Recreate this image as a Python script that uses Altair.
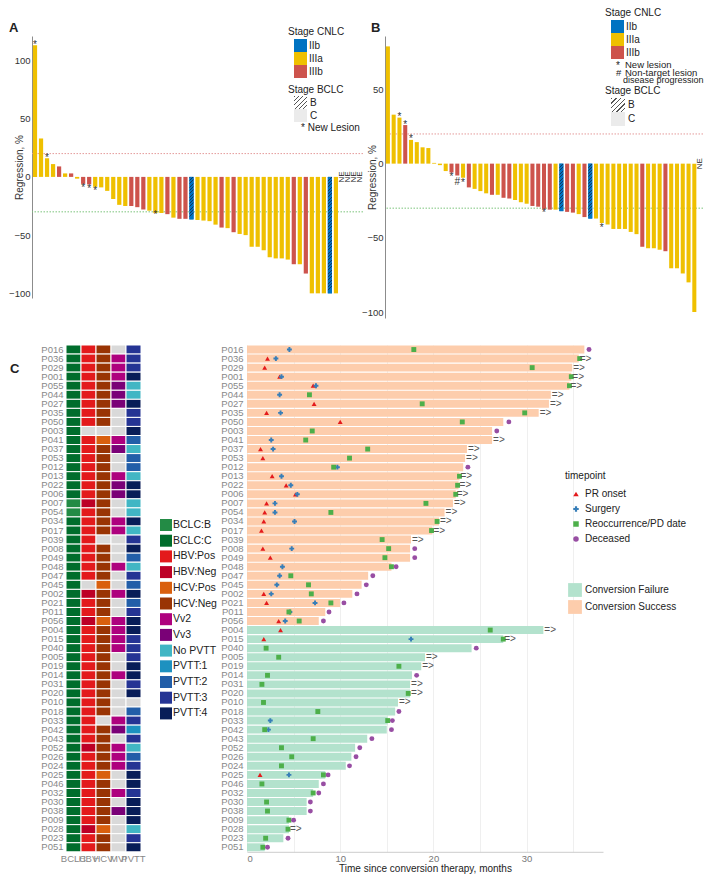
import altair as alt
import pandas as pd

FONT = "Liberation Sans"

# ---------------- Panel A (waterfall) ----------------
a_values = [113, 33, 16, 11, 9, 3, 3, -1.5, -6, -6.5,
            -8.5, -9, -12, -19, -24, -25, -25, -26, -28, -29,
            -31, -31, -32, -35, -36, -36, -36.5, -37, -37.5, -38,
            -41, -43.5, -44, -47.5, -49, -50, -60, -60, -63, -69,
            -70, -70, -71, -75, -75, -83, -100, -100, -100, -100, -100]
a_stage = ["IIIa", "IIIa", "IIIa", "IIIa", "IIIb", "IIIa", "IIIb", "IIIa", "IIIb", "IIIb",
           "IIIa", "IIIa", "IIIa", "IIIa", "IIIa", "IIIa", "IIIb", "IIIb", "IIIb", "IIIa",
           "IIIa", "IIIa", "IIIb", "IIIa", "IIIb", "IIIb", "IIb", "IIIa", "IIIa", "IIIa",
           "IIIa", "IIIb", "IIIa", "IIIb", "IIIa", "IIIa", "IIIa", "IIIa", "IIIa", "IIIa",
           "IIIa", "IIIa", "IIIa", "IIIb", "IIIa", "IIIb", "IIIa", "IIIa", "IIIa", "IIb", "IIIa"]
a_hatched = [27, 50]
a_ne = [52, 53, 54, 55]
a_star_bar = [1, 3, 9, 10, 11, 21]
a_star_y = [115, 18.5, -7.5, -8.5, -10, -30.5]
a_star_sym = ["*", "*", "*", "*", "*", "*"]

# ---------------- Panel B (waterfall) ----------------
b_values = [79, 33, 31, 26, 16, 14.5, 11, 10.5, 0.5, -1,
            -5, -6, -8, -9.5, -16, -17, -18.5, -20, -21, -21,
            -23, -23.5, -24.5, -26, -27, -28.5, -29, -30.5, -31, -31,
            -32, -32.5, -33, -34, -36, -37, -37, -40, -41, -44,
            -44, -44, -46, -47.5, -56, -57, -57, -58, -59, -70.5,
            -70.5, -74, -80, -100]
b_stage = ["IIIa", "IIIa", "IIIa", "IIIb", "IIIa", "IIIa", "IIIa", "IIIa", "IIIa", "IIIa",
           "IIIa", "IIIb", "IIIb", "IIIa", "IIIb", "IIIa", "IIIa", "IIIa", "IIIb", "IIIa",
           "IIIb", "IIIb", "IIIa", "IIIa", "IIIa", "IIIb", "IIIb", "IIIb", "IIIb", "IIIa",
           "IIb", "IIIb", "IIIb", "IIIa", "IIIb", "IIb", "IIIa", "IIIa", "IIIa", "IIIa",
           "IIIa", "IIIa", "IIIa", "IIIa", "IIIb", "IIIa", "IIIa", "IIIa", "IIIb", "IIIa",
           "IIIa", "IIIa", "IIIa", "IIIa"]
b_hatched = [31, 36]
b_ne = [55]
b_star_bar = [3, 4, 5, 12, 13, 14, 28, 38]
b_star_y = [33, 28, 18, -7.5, -10.5, -11.5, -31.5, -42]
b_star_sym = ["*", "*", "*", "*", "#", "*", "*", "*"]

stage_domain = ["IIb", "IIIa", "IIIb"]
stage_colors = ["#0073C2", "#EFC000", "#CD534C"]

# ---------------- Panel C ----------------
patients = ["P016", "P036", "P029", "P001", "P055", "P044", "P027", "P035", "P050", "P003",
            "P041", "P037", "P053", "P012", "P013", "P022", "P006", "P007", "P054", "P034",
            "P017", "P039", "P008", "P049", "P048", "P047", "P045", "P002", "P021", "P011",
            "P056", "P004", "P015", "P040", "P005", "P019", "P014", "P031", "P020", "P010",
            "P018", "P033", "P042", "P043", "P052", "P026", "P024", "P025", "P046", "P032",
            "P030", "P038", "P009", "P028", "P023", "P051"]
conversion = ["Conversion Success"] * 31 + ["Conversion Failure"] * 25
duration = [36.2, 35.6, 34.9, 34.8, 34.6, 32.6, 32.4, 31.3, 27.5, 26.3,
            26.3, 23.6, 23.4, 23.2, 22.8, 22.7, 22.4, 22.1, 21.2, 20.6,
            19.9, 17.6, 17.5, 17.5, 15.5, 13.0, 12.3, 11.3, 10.0, 8.4,
            7.7, 31.8, 27.5, 24.1, 19.1, 18.7, 17.7, 17.5, 17.5, 16.2,
            15.9, 15.1, 15.0, 12.9, 11.6, 11.2, 10.6, 8.4, 7.7, 7.1,
            6.4, 6.4, 4.5, 4.5, 3.9, 1.9]
ongoing = ["P036", "P029", "P001", "P055", "P044", "P027", "P035", "P041", "P037", "P053",
           "P013", "P022", "P006", "P007", "P054", "P034", "P017", "P039",
           "P004", "P015", "P005", "P019", "P031", "P020", "P010", "P028"]
pr_onset = [None, 2.2, 1.9, 3.5, 7.1, None, 7.2, 2.1, 10.0, None,
            None, 1.45, 1.7, None, 2.7, 4.2, 5.2, 2.1, 1.9, 1.8,
            1.55, None, 1.7, 2.5, None, None, None, 1.8, 2.1, None,
            3.4, 3.6, 1.8, None, None, None, None, None, None, None,
            None, None, None, None, None, None, None, 1.4, None, None,
            None, None, None, None, None, None]
surgery = [4.55, 3.1, None, 3.7, 7.4, 3.5, None, 3.6, None, None,
           2.6, 2.8, None, 9.7, 3.7, 4.7, 5.4, 3.0, 3.0, 5.1,
           None, None, 4.8, None, 3.8, 3.5, 3.2, 2.6, 7.3, 4.6,
           4.1, None, 17.6, None, None, None, None, None, None, None,
           None, 2.5, 2.3, None, None, None, None, 4.5, None, None,
           None, None, None, None, None, None]
recurrence = [17.9, 35.7, 30.6, 34.8, 34.6, 6.7, 18.8, 29.8, 23.1, 7.0,
              6.3, 12.95, 11.0, 9.3, 22.8, 22.6, 22.4, 19.2, 9.0, 20.4,
              19.8, 14.5, 15.2, 14.8, 15.5, 4.7, 6.6, 6.9, 9.0, 4.5,
              5.6, 26.1, 27.5, 2.05, 3.4, 16.3, 2.2, 1.6, 17.3, 1.77,
              7.6, 15.1, 1.9, 7.1, 3.7, 4.8, 3.7, 8.2, 1.6, 7.1,
              2.1, 2.2, 4.5, 4.4, 2.0, 1.7]
deceased = [36.7, None, None, None, None, None, None, None, 28.1, 26.8,
            None, None, None, 23.7, None, None, None, None, None, None,
            None, None, 18.0, 18.0, 16.0, 13.5, 12.8, 11.8, 10.4, 8.8,
            8.2, None, None, 24.6, None, None, 18.2, None, None, None,
            16.3, 15.6, 15.5, 13.4, 12.1, 11.7, 11.0, 8.7, 8.2, 7.7,
            6.8, 6.8, 5.0, None, 4.4, 2.2]

# heatmap columns (NA = not available)
bclc = ["BCLC:C"] * 17 + ["BCLC:B", "BCLC:B"] + ["BCLC:C"] * 37
hbv = ["HBV:Pos"] * 9 + ["NA"] + ["HBV:Pos"] * 7 + ["HBV:Neg"] + ["HBV:Pos"] * 8 + ["NA", "HBV:Neg", "HBV:Pos", "HBV:Pos", "HBV:Neg"] \
      + ["HBV:Pos"] * 13 + ["HBV:Neg"] + ["HBV:Pos"] * 8 + ["HBV:Neg", "HBV:Pos", "HBV:Pos"]
hcv = ["HCV:Neg"] * 9 + ["NA", "HCV:Pos"] + ["HCV:Neg"] * 10 + ["NA"] + ["HCV:Neg"] * 4 + ["HCV:Pos", "HCV:Neg", "HCV:Neg", "HCV:Neg", "HCV:Pos"] \
      + ["HCV:Neg"] * 10 + ["NA"] + ["HCV:Neg"] * 5 + ["HCV:Pos"] + ["HCV:Neg"] * 5 + ["HCV:Pos", "HCV:Neg", "HCV:Neg"]
mvi = ["NA", "Vv2", "Vv2", "Vv2", "Vv3", "Vv3", "Vv3", "NA", "NA", "NA",
       "Vv2", "Vv3", "NA", "NA", "Vv2", "Vv3", "Vv3", "NA", "NA", "Vv2",
       "Vv2", "NA", "NA", "NA", "Vv2", "NA", "NA", "Vv2", "NA", "NA",
       "Vv2", "Vv2", "Vv2", "Vv2", "NA", "NA", "Vv2", "NA", "NA", "NA",
       "NA", "Vv2", "Vv3", "NA", "Vv2", "Vv2", "Vv2", "NA", "NA", "Vv2",
       "NA", "Vv3", "NA", "NA", "NA", "NA"]
pvtt = ["PVTT:3", "PVTT:3", "PVTT:3", "PVTT:4", "No PVTT", "No PVTT", "PVTT:4", "PVTT:3", "PVTT:3", "PVTT:4",
        "PVTT:2", "No PVTT", "PVTT:2", "PVTT:2", "No PVTT", "PVTT:4", "PVTT:4", "No PVTT", "No PVTT", "PVTT:4",
        "No PVTT", "PVTT:3", "PVTT:4", "PVTT:2", "No PVTT", "PVTT:3", "PVTT:2", "PVTT:4", "PVTT:2", "PVTT:3",
        "PVTT:4", "PVTT:4", "PVTT:3", "PVTT:3", "PVTT:3", "PVTT:4", "PVTT:4", "PVTT:3", "PVTT:4", "NA",
        "PVTT:2", "PVTT:3", "PVTT:1", "PVTT:3", "No PVTT", "PVTT:2", "PVTT:3", "PVTT:4", "PVTT:4", "PVTT:3",
        "PVTT:4", "PVTT:4", "PVTT:4", "No PVTT", "PVTT:3", "PVTT:4"]
heat_cols = ["BCLC", "HBV", "HCV", "MVI", "PVTT"]
heat_domain = ["BCLC:B", "BCLC:C", "HBV:Pos", "HBV:Neg", "HCV:Pos", "HCV:Neg", "Vv2", "Vv3",
               "No PVTT", "PVTT:1", "PVTT:2", "PVTT:3", "PVTT:4"]
heat_colors = ["#238b45", "#006d2c", "#e31a1c", "#bd0026", "#d95f0e", "#993404", "#ae017e", "#7a0177",
               "#41b6c4", "#1d91c0", "#225ea8", "#253494", "#081d58"]

event_domain = ["PR onset", "Surgery", "Reoccurrence/PD date", "Deceased"]
event_colors = ["#e41a1c", "#377eb8", "#4daf4a", "#984ea3"]
event_shapes = ["triangle-up", "cross", "square", "circle"]

one = pd.DataFrame({"k": [0]})


def label(text, x, y, size=10, align="left", baseline="middle", weight="normal", color="#222"):
    return alt.Chart(one).mark_text(text=text, align=align, baseline=baseline, fontSize=size,
                                    fontWeight=weight, color=color, font=FONT).encode(
        x=alt.value(x), y=alt.value(y))


def swatch(x, y, w, h, fill):
    return alt.Chart(one).mark_rect(fill=fill).encode(
        x=alt.value(x), x2=alt.value(x + w), y=alt.value(y), y2=alt.value(y + h))


def stripes(n, base, dark, gx, gy=1.0, frac=0.3):
    stops = []
    for i in range(n):
        a, b, c = i / n, (i + frac) / n, (i + 1) / n
        stops += [alt.GradientStop(color=dark, offset=a), alt.GradientStop(color=dark, offset=b),
                  alt.GradientStop(color=base, offset=b), alt.GradientStop(color=base, offset=c)]
    return alt.LinearGradient(gradient="linear", stops=stops, x1=0, y1=0, x2=gx, y2=gy)


def waterfall(values, stages, hatched, ne, star_bar, star_y, star_sym, n_slots, width, height,
              ydom, yvals, leg_x, leg_y):
    df = pd.DataFrame({"pos": list(range(1, len(values) + 1)), "value": values, "stage": stages})
    xs = alt.X("pos:O", axis=None,
               scale=alt.Scale(domain=list(range(1, n_slots + 1)), paddingInner=0.3, paddingOuter=0.15))
    ys = alt.Y("value:Q", scale=alt.Scale(domain=ydom, nice=False, zero=False),
               axis=alt.Axis(values=yvals, title="Regression, %", ticks=False, grid=False,
                             domainColor="#8c8c8c", labelColor="#333", labelFontSize=9.5,
                             labelPadding=2, titleFontSize=10, titleFontWeight="normal",
                             titleColor="#333", titleX=-8))
    layers = []
    layers.append(alt.Chart(one).mark_rule(color="#e49a9a", strokeDash=[1.5, 1.5], strokeWidth=1)
                  .encode(y=alt.datum(20)))
    layers.append(alt.Chart(one).mark_rule(color="#7cc47c", strokeDash=[1.5, 1.5], strokeWidth=1)
                  .encode(y=alt.datum(-30)))
    bars = alt.Chart(df).mark_bar().encode(
        x=xs, y=ys,
        color=alt.Color("stage:N", scale=alt.Scale(domain=stage_domain, range=stage_colors),
                        legend=alt.Legend(title="Stage CNLC", orient="none", legendX=leg_x, legendY=leg_y,
                                          direction="vertical", symbolType="square", symbolSize=169,
                                          symbolOffset=6, symbolStrokeWidth=0, rowPadding=0,
                                          labelFontSize=10, labelOffset=2, titleFontSize=10,
                                          titleFontWeight="normal", titlePadding=2, padding=0,
                                          labelColor="#222", titleColor="#222")))
    layers.append(bars)
    step = width / n_slots
    bw = 0.7 * step
    pxu = height / (ydom[1] - ydom[0])
    for h in hatched:
        hp = abs(values[h - 1]) * pxu
        n = max(6, int(round(hp / 3.3)))
        grad = stripes(n, "#0073C2", "#16365f", bw / hp)
        layers.append(alt.Chart(df).transform_filter(alt.datum.pos == h).mark_bar(fill=grad)
                      .encode(x=xs, y=ys))
    sdf = pd.DataFrame({"pos": star_bar, "value": star_y, "sym": star_sym})
    layers.append(alt.Chart(sdf).mark_text(fontSize=10, baseline="middle", dy=2.5, color="#333", font=FONT)
                  .encode(x=xs, y=ys, text="sym:N"))
    ndf = pd.DataFrame({"pos": ne, "value": [0] * len(ne), "t": ["NE"] * len(ne)})
    layers.append(alt.Chart(ndf).mark_text(fontSize=8, angle=270, baseline="middle", align="center",
                                           color="#222", font=FONT)
                  .encode(x=xs, y=ys, text="t:N"))
    return layers


WA, HA = 331, 262
WB, HB = 318, 282

a_layers = waterfall(a_values, a_stage, a_hatched, a_ne, a_star_bar, a_star_y, a_star_sym, 55, WA, HA,
                     [-104, 121], [-100, -50, 0, 50, 100], 256, -9)
a_layers += [
    label("A", -23, -8, size=13, weight="bold"),
    label("Stage BCLC", 256, 54),
    swatch(262, 60, 13, 13, stripes(6, "#ffffff", "#555555", 1.0, 1.0)),
    swatch(262, 73, 13, 13, "#ebebeb"),
    label("B", 278, 66.5),
    label("C", 278, 79.5),
    label("* New Lesion", 269, 92),
]
chartA = alt.layer(*a_layers).properties(width=WA, height=HA)

b_layers = waterfall(b_values, b_stage, b_hatched, b_ne, b_star_bar, b_star_y, b_star_sym, 55, WB, HB,
                     [-104, 86], [-100, -50, 0, 50], 220, -28)
b_layers += [
    label("B", -14, -8, size=13, weight="bold"),
    label("*", 231, 30),
    label("New lesion", 240, 29, size=9.5),
    label("#", 231, 37, size=9.5),
    label("Non-target lesion", 240, 37, size=9.5),
    label("disease progression", 238, 44, size=9),
    label("Stage BCLC", 220, 55),
    swatch(226, 62, 14, 14, stripes(6, "#ffffff", "#555555", 1.0, 1.0)),
    swatch(226, 76, 14, 14, "#ebebeb"),
    label("B", 243, 69),
    label("C", 243, 83),
]
chartB = alt.layer(*b_layers).properties(width=WB, height=HB)

# ---------------- heatmap ----------------
ROWH = 9.05
HC = ROWH * len(patients)
heat_df = pd.DataFrame({
    "patient": patients * 5,
    "var": sum([[c] * len(patients) for c in heat_cols], []),
    "val": bclc + hbv + hcv + mvi + pvtt,
})
heat = alt.Chart(heat_df).mark_rect(stroke="white", strokeWidth=1).encode(
    x=alt.X("var:N", sort=heat_cols, scale=alt.Scale(range=[34, 109], paddingInner=0, paddingOuter=0),
            axis=alt.Axis(title=None, labelAngle=0, ticks=False, domain=False, labelFontSize=9.5,
                          labelColor="#888", labelPadding=2, labelOverlap=False)),
    y=alt.Y("patient:N", sort=patients, scale=alt.Scale(paddingInner=0, paddingOuter=0),
            axis=alt.Axis(title=None, offset=-34, ticks=False, domain=False, labelFontSize=9.5,
                          labelColor="#888", labelPadding=3)),
    fill=alt.Fill("val:N", scale=alt.Scale(domain=heat_domain + ["NA"], range=heat_colors + ["#d9d9d9"]),
                  legend=alt.Legend(title=None, values=heat_domain, orient="none", legendX=128,
                                    legendY=174, direction="vertical", symbolType="square",
                                    symbolSize=144, symbolStrokeWidth=0, rowPadding=3.7,
                                    labelFontSize=10.5, labelOffset=1, padding=0, labelColor="#222")),
)
heat_chart = alt.layer(heat, label("C", -22, 24, size=13, weight="bold")).properties(width=109, height=HC)

# ---------------- swimmer ----------------
swim_df = pd.DataFrame({"patient": patients, "dur": duration, "group": conversion})
ev_rows = []
for i, p in enumerate(patients):
    for name, arr in zip(event_domain, [pr_onset, surgery, recurrence, deceased]):
        if arr[i] is not None:
            ev_rows.append({"patient": p, "t": arr[i], "event": name})
ev_df = pd.DataFrame(ev_rows)
arr_df = swim_df[swim_df["patient"].isin(ongoing)].assign(s="=>")

sx = alt.X("dur:Q", scale=alt.Scale(domain=[0, 38.2], nice=False),
           axis=alt.Axis(values=[0, 5, 10, 15, 20, 25, 30, 35],
                         labelExpr="datum.value % 10 == 0 ? datum.label : ''",
                         title="Time since conversion therapy, months", ticks=False, grid=True,
                         gridColor="#efefef", domainColor="#cccccc", labelColor="#777", labelFontSize=9.5,
                         labelPadding=2, titleFontSize=10, titleFontWeight="normal", titleColor="#222",
                         titlePadding=0))
sy = alt.Y("patient:N", sort=patients, scale=alt.Scale(paddingInner=0.12, paddingOuter=0.06),
           axis=alt.Axis(title=None, ticks=False, domain=False, labelFontSize=9.5, labelColor="#888",
                         labelPadding=4))
swim_bars = alt.Chart(swim_df).mark_bar().encode(
    x=sx, y=sy,
    fill=alt.Fill("group:N", scale=alt.Scale(domain=["Conversion Failure", "Conversion Success"],
                                             range=["#B3E2CD", "#FDCDAC"]),
                  legend=alt.Legend(title=None, orient="none", legendX=321, legendY=238,
                                    direction="vertical", symbolType="square", symbolSize=190,
                                    symbolStrokeWidth=0, rowPadding=3, labelFontSize=10, labelOffset=3,
                                    padding=0, labelColor="#222")))
ev_leg = alt.Legend(title="timepoint", orient="none", legendX=318, legendY=126, direction="vertical",
                    symbolSize=30, symbolOffset=6, rowPadding=5, labelFontSize=10, labelOffset=4,
                    titleFontSize=10, titleFontWeight="normal", titlePadding=8, padding=0,
                    labelColor="#222", titleColor="#222", symbolStrokeWidth=0)
swim_pts = alt.Chart(ev_df).mark_point(filled=True, size=24, opacity=1).encode(
    x=alt.X("t:Q", scale=alt.Scale(domain=[0, 38.2], nice=False)),
    y=sy,
    color=alt.Color("event:N", scale=alt.Scale(domain=event_domain, range=event_colors), legend=ev_leg),
    shape=alt.Shape("event:N", scale=alt.Scale(domain=event_domain, range=event_shapes), legend=ev_leg),
)
swim_arrow = alt.Chart(arr_df).mark_text(align="left", baseline="middle", dx=1, fontSize=10,
                                         color="#555", font=FONT).encode(x=sx, y=sy, text="s:N")
swim_chart = alt.layer(swim_bars, swim_pts, swim_arrow).properties(width=356, height=HC)

IND = dict(x="independent", y="independent", color="independent", fill="independent",
           shape="independent", size="independent", opacity="independent")
LEGIND = dict(color="independent", fill="independent", shape="independent")

row1 = alt.hconcat(chartA, chartB, spacing=22, bounds="flush").resolve_scale(**IND).resolve_legend(**LEGIND)
row2 = alt.hconcat(heat_chart, swim_chart, spacing=106, bounds="flush").resolve_scale(**IND).resolve_legend(**LEGIND)
chart = alt.vconcat(row1, row2, spacing=26).resolve_scale(**IND).resolve_legend(**LEGIND).properties(
    padding={"left": 0, "top": 0, "right": 0, "bottom": 0}
).configure(font=FONT, background="white").configure_view(strokeWidth=0)

chart.save("out.html", embed_options={"renderer": "svg", "actions": False})
